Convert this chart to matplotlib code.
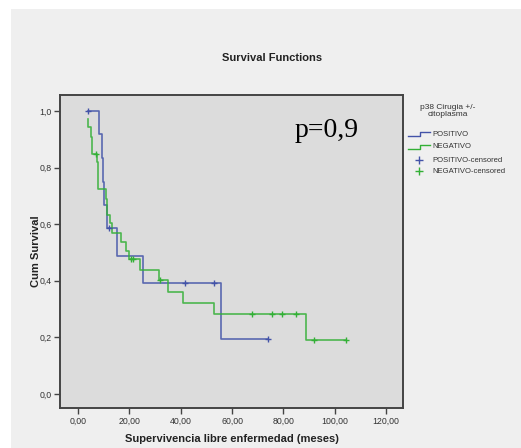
import numpy as np
import matplotlib.pyplot as plt
from matplotlib.lines import Line2D

plt.rcParams['font.family'] = ['Liberation Sans', 'DejaVu Sans']

# Curvas de supervivencia (tiempo en meses, supervivencia tras el escalon)
pos_t = [3.8, 8.2, 9.5, 9.9, 10.2, 11.2, 15.3, 25.4, 55.9, 74.1]
pos_s = [1.0, 0.919, 0.833, 0.75, 0.667, 0.586, 0.489, 0.392, 0.195, 0.195]
pos_cens_t = [3.8, 12.1, 41.6, 52.9, 74.1]
pos_cens_s = [1.0, 0.586, 0.392, 0.392, 0.195]

neg_t = [3.8, 4.0, 5.1, 5.6, 7.4, 7.9, 10.9, 11.5, 12.5, 13.1, 16.6, 18.7, 20.0,
         24.1, 31.6, 35.1, 41.0, 53.1, 89.0, 104.5]
neg_s = [0.971, 0.945, 0.909, 0.85, 0.82, 0.723, 0.69, 0.632, 0.603, 0.568, 0.538,
         0.506, 0.476, 0.438, 0.403, 0.362, 0.323, 0.283, 0.191, 0.191]
neg_cens_t = [6.9, 20.5, 21.3, 31.9, 67.6, 75.7, 79.6, 84.8, 91.9, 104.5]
neg_cens_s = [0.85, 0.476, 0.476, 0.403, 0.283, 0.283, 0.283, 0.283, 0.191, 0.191]

x_ticks = [0, 20, 40, 60, 80, 100, 120]
y_ticks = [0.0, 0.2, 0.4, 0.6, 0.8, 1.0]

c_pos = '#4353a8'
c_neg = '#33b036'

W, H = 521, 448
fig = plt.figure(figsize=(W / 100, H / 100), dpi=100, facecolor='white')
# panel gris de fondo
fig.patches.append(plt.Rectangle((11 / W, 0), 1, 1 - 9 / H, transform=fig.transFigure,
                                 facecolor='#efefef', edgecolor='none', zorder=-5))

ax = fig.add_axes([60 / W, 1 - 408 / H, 343 / W, 313 / H])
ax.set_zorder(2)
ax.set_facecolor('#dcdcdc')

ax.step(pos_t, pos_s, where='post', color=c_pos, lw=1.2, alpha=0.85)
ax.step(neg_t, neg_s, where='post', color=c_neg, lw=1.2, alpha=0.85)
ax.plot(pos_cens_t, pos_cens_s, '+', color=c_pos, ms=5, mew=1)
ax.plot(neg_cens_t, neg_cens_s, '+', color=c_neg, ms=5, mew=1)

ax.set_xlim(-7, 126.6)
ax.set_ylim(-0.05, 1.057)
ax.set_xticks(x_ticks)
ax.set_xticklabels([f'{v:.2f}'.replace('.', ',') for v in x_ticks])
ax.set_yticks(y_ticks)
ax.set_yticklabels([f'{v:.1f}'.replace('.', ',') for v in y_ticks])
ax.tick_params(labelsize=6.3, length=4, width=1, color='#444444', labelcolor='#333333', pad=2)
for s in ax.spines.values():
    s.set_color('#444444')
    s.set_linewidth(1.4)

ax.set_xlabel('Supervivencia libre enfermedad (meses)', fontsize=8, fontweight='bold',
              color='#222222', labelpad=6)
ax.set_ylabel('Cum Survival', fontsize=8, fontweight='bold', color='#222222', labelpad=-1)

ax.text(327, 448 - 130, 'p=0,9', transform=None, fontsize=20, family='Liberation Serif',
        ha='center', va='center')
fig.text(272 / W, 1 - 58 / H, 'Survival Functions', fontsize=8, fontweight='bold',
         ha='center', va='center', color='#222222')

# leyenda manual
fig.text(448 / W, 1 - 111 / H, 'p38 Cirugia +/-\ncitoplasma', fontsize=6, ha='center',
         va='center', color='#333333', linespacing=1.15)

def fx(px):
    return px / W

def fy(py):
    return 1 - py / H

labels = ['POSITIVO', 'NEGATIVO', 'POSITIVO-censored', 'NEGATIVO-censored']
rows = [134, 147, 160, 171]
for i, (lab, py) in enumerate(zip(labels, rows)):
    col = c_pos if i % 2 == 0 else c_neg
    if i < 2:
        xs = [fx(408), fx(420), fx(420), fx(430)]
        ys = [fy(py + 2), fy(py + 2), fy(py - 2), fy(py - 2)]
        fig.add_artist(Line2D(xs, ys, color=col, lw=1, transform=fig.transFigure))
    else:
        fig.add_artist(Line2D([fx(419)], [fy(py)], marker='+', ms=6, mew=1, color=col,
                              transform=fig.transFigure))
    fig.text(fx(432), fy(py), lab, fontsize=5.5, va='center', ha='left', color='#333333')

plt.savefig('out.png', dpi=100)
